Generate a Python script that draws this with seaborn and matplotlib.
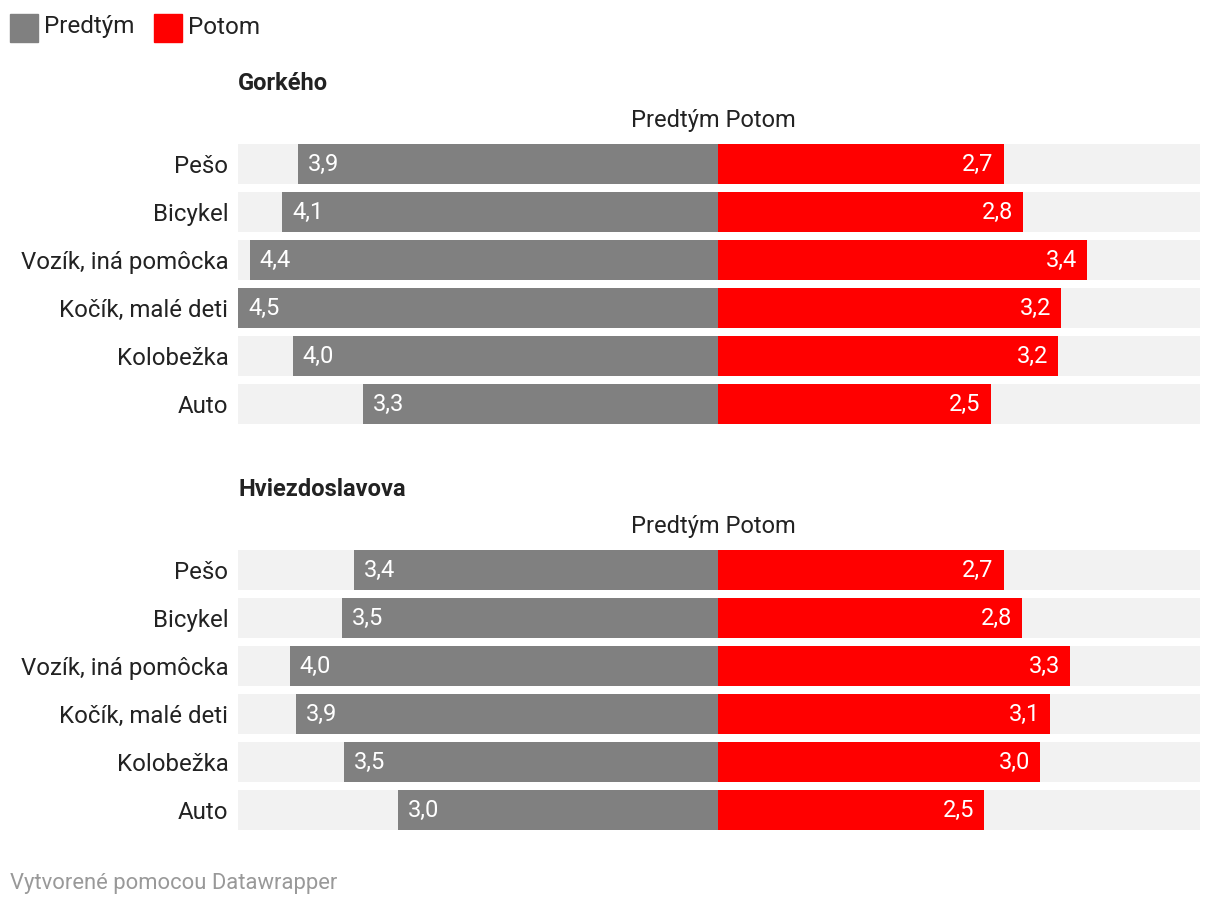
import seaborn as sns
import matplotlib.pyplot as plt
import pandas as pd
from matplotlib.patches import Rectangle

kategorie = ['Pešo', 'Bicykel', 'Vozík, iná pomôcka', 'Kočík, malé deti', 'Kolobežka', 'Auto']
gorkeho_predtym = [3.91, 4.06, 4.36, 4.47, 3.96, 3.31]
gorkeho_potom = [2.66, 2.84, 3.44, 3.20, 3.17, 2.54]
hviezd_predtym = [3.39, 3.50, 3.99, 3.93, 3.48, 2.98]
hviezd_potom = [2.66, 2.83, 3.28, 3.09, 3.00, 2.48]
ulice = ['Gorkého', 'Hviezdoslavova']

sns.set_theme(style='white')
plt.rcParams['font.family'] = ['Roboto', 'DejaVu Sans']

SIVA = '#808080'
CERVENA = '#ff0000'
POZADIE = '#f2f2f2'
TEXT = '#222222'
XMIN, XMAX = -4.47, 4.49

fig = plt.figure(figsize=(12.2, 9.08), dpi=100)
W, H = 1220, 908

def px_axes(x0, y0, x1, y1):
    return fig.add_axes([x0 / W, 1 - y1 / H, (x1 - x0) / W, (y1 - y0) / H])

def fmt(v):
    return f'{v:.1f}'.replace('.', ',')

def panel(ax, predtym, potom):
    df = pd.DataFrame({'kat': kategorie, 'pred': [-v for v in predtym], 'po': potom})
    bw = 40 / 48
    sns.barplot(data=df.assign(l=XMIN), x='l', y='kat', orient='h', color=POZADIE,
                width=bw, ax=ax, saturation=1)
    sns.barplot(data=df.assign(r=XMAX), x='r', y='kat', orient='h', color=POZADIE,
                width=bw, ax=ax, saturation=1)
    sns.barplot(data=df, x='pred', y='kat', orient='h', color=SIVA, width=bw, ax=ax, saturation=1)
    sns.barplot(data=df, x='po', y='kat', orient='h', color=CERVENA, width=bw, ax=ax, saturation=1)
    for p in ax.patches:
        p.set_linewidth(0)
    pad = 10 / 107.4
    for i, (a, b) in enumerate(zip(predtym, potom)):
        ax.text(-a + pad, i, fmt(a), color='white', ha='left', va='center', fontsize=17)
        ax.text(b - pad, i, fmt(b), color='white', ha='right', va='center', fontsize=17)
    ax.set_xlim(XMIN, XMAX)
    ax.set_ylim(5 + bw / 2, -bw / 2)
    ax.set_xlabel('')
    ax.set_ylabel('')
    ax.set_xticks([])
    ax.tick_params(axis='y', length=0, pad=7, labelsize=17.3, labelcolor=TEXT)
    sns.despine(ax=ax, left=True, bottom=True)

ax1 = px_axes(238, 144, 1200, 424)
panel(ax1, gorkeho_predtym, gorkeho_potom)
ax2 = px_axes(238, 550, 1200, 830)
panel(ax2, hviezd_predtym, hviezd_potom)

for y_t, y_h, nazov in [(83, 121, ulice[0]), (489, 527, ulice[1])]:
    fig.text(238 / W, 1 - y_t / H, nazov, fontsize=17, fontweight='bold', color=TEXT,
             ha='left', va='center')
    fig.text(713 / W, 1 - y_h / H, 'Predtým Potom', fontsize=17, color=TEXT,
             ha='center', va='center')

# legenda
for x0, farba, popis in [(10, SIVA, 'Predtým'), (154, CERVENA, 'Potom')]:
    fig.patches.append(Rectangle((x0 / W, 1 - 42 / H), 28 / W, 28 / H, color=farba,
                                 transform=fig.transFigure, figure=fig))
    fig.text((x0 + 34) / W, 1 - 27 / H, popis, fontsize=17.5, color=TEXT,
             ha='left', va='center')

fig.text(10 / W, 1 - 883 / H, 'Vytvorené pomocou Datawrapper', fontsize=15.8,
         color='#999999', ha='left', va='center')

fig.savefig('out.png', dpi=100)
